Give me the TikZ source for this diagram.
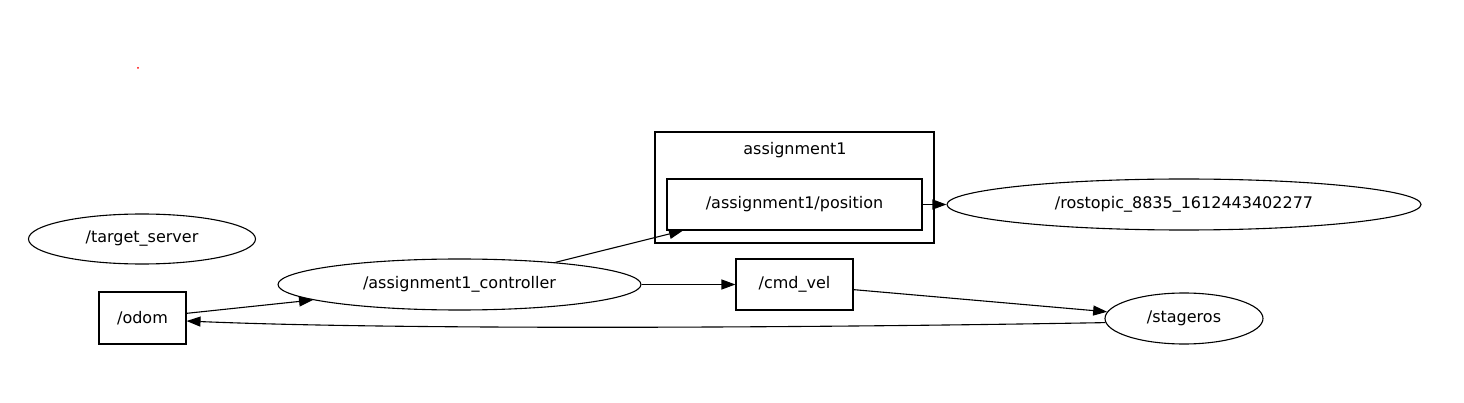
\documentclass[tikz,border=0pt]{standalone}
\usepackage{fontspec}
\setmainfont{DejaVu Sans}
\usetikzlibrary{shapes.geometric,arrows.meta}
\begin{document}
\begin{tikzpicture}[x=1pt,y=-1pt,
  every node/.style={font=\fontsize{16}{19}\selectfont, inner sep=0pt},
  ell/.style={draw, ellipse, line width=1.1pt},
  bx/.style={draw, rectangle, line width=1.1pt},
  edge/.style={line width=1.1pt, -{Triangle[length=14pt,width=10pt]}}]
\useasboundingbox (0,0) rectangle (1464,403);
\fill[white] (0,0) rectangle (1464,403);
\fill[red] (138,68) circle (1);
% cluster
\node[bx, minimum width=279, minimum height=111] (cluster) at (794.5,187.5) {};
\node (clabel) at (795,150) {assignment1};
% nodes
\node[ell, minimum width=227, minimum height=50] (target) at (142,239) {/target\_server};
\node[bx, minimum width=87, minimum height=52] (odom) at (142.5,318) {/odom};
\node[ell, minimum width=363, minimum height=51] (ctrl) at (459.5,284.5) {/assignment1\_controller};
\node[bx, minimum width=255, minimum height=51] (pos) at (794.5,204.5) {/assignment1/position};
\node[ell, minimum width=474, minimum height=51] (rostopic) at (1184,204.5) {/rostopic\_8835\_1612443402277};
\node[bx, minimum width=117, minimum height=51] (cmd) at (794.5,284.5) {/cmd\_vel};
\node[ell, minimum width=158, minimum height=51] (stage) at (1184,318.5) {/stageros};
% edges
\draw[edge] (odom) -- (ctrl);
\draw[edge] (ctrl.13) -- ([xshift=-111.5pt]pos.south);
\draw[edge] (ctrl.east) -- (cmd.west);
\draw[edge] (pos.east) -- (rostopic.west);
\draw[edge] (cmd) -- (stage);
\draw[edge] (stage.183) .. controls (800,328) and (400,330) .. ([yshift=-3pt]odom.east);
\end{tikzpicture}
\end{document}
